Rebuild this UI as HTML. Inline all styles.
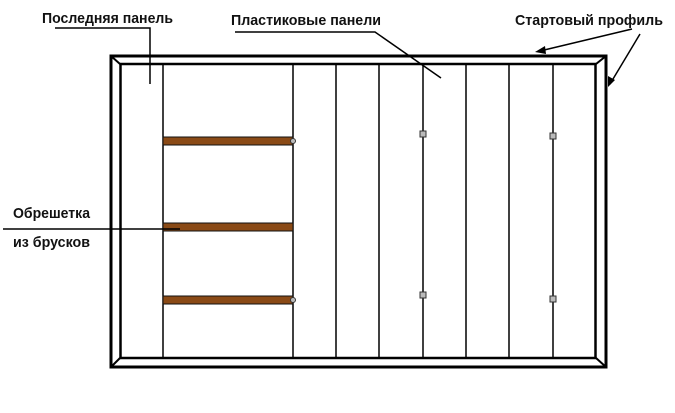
<!DOCTYPE html>
<html><head><meta charset="utf-8"><style>
html,body{margin:0;padding:0;background:#fff;}
svg{display:block;}
text{font-family:"Liberation Sans",sans-serif;font-weight:bold;font-size:15px;fill:#111;}
</style></head><body>
<svg width="675" height="413" viewBox="0 0 675 413" xmlns="http://www.w3.org/2000/svg">
<g stroke="#000" fill="none">
<rect x="111" y="56" width="495" height="311" stroke-width="3"/>
<rect x="120.5" y="64" width="475" height="294" stroke-width="2.5"/>
<line x1="111" y1="56" x2="120" y2="64" stroke-width="2"/>
<line x1="606" y1="56" x2="596" y2="64" stroke-width="2"/>
<line x1="111" y1="367" x2="120" y2="358" stroke-width="2"/>
<line x1="606" y1="367" x2="596" y2="358" stroke-width="2"/>
<g stroke-width="1.5">
<line x1="163" y1="64" x2="163" y2="358"/>
<line x1="293" y1="64" x2="293" y2="358"/>
<line x1="336" y1="64" x2="336" y2="358"/>
<line x1="379" y1="64" x2="379" y2="358"/>
<line x1="423" y1="64" x2="423" y2="358"/>
<line x1="466" y1="64" x2="466" y2="358"/>
<line x1="509" y1="64" x2="509" y2="358"/>
<line x1="553" y1="64" x2="553" y2="358"/>
</g>
</g>
<g fill="#8a4a16" stroke="#111" stroke-width="1">
<rect x="163" y="137" width="130" height="8"/>
<rect x="163" y="223" width="130" height="8"/>
<rect x="163" y="296" width="130" height="8"/>
</g>
<g fill="#bbb" stroke="#333" stroke-width="1">
<circle cx="293" cy="141" r="2.5"/>
<circle cx="293" cy="300" r="2.5"/>
<rect x="420" y="131" width="6" height="6"/>
<rect x="420" y="292" width="6" height="6"/>
<rect x="550" y="133" width="6" height="6"/>
<rect x="550" y="296" width="6" height="6"/>
</g>
<g stroke="#000" stroke-width="1.5" fill="none">
<polyline points="55,28 150,28 150,84"/>
<polyline points="235,32 375,32 441,78"/>
<line x1="3" y1="229" x2="180" y2="229"/>
<line x1="632" y1="29" x2="540" y2="51"/>
<line x1="640" y1="34" x2="610" y2="84"/>
</g>
<g fill="#000">
<polygon points="535,52 545,46 546,54"/>
<polygon points="608,87 608,76 615,80"/>
</g>
<text x="42" y="23" textLength="131" lengthAdjust="spacingAndGlyphs">Последняя панель</text>
<text x="231" y="25" textLength="150" lengthAdjust="spacingAndGlyphs">Пластиковые панели</text>
<text x="515" y="25" textLength="148" lengthAdjust="spacingAndGlyphs">Стартовый профиль</text>
<text x="13" y="218" textLength="77" lengthAdjust="spacingAndGlyphs">Обрешетка</text>
<text x="13" y="247" textLength="77" lengthAdjust="spacingAndGlyphs">из брусков</text>
</svg>
</body></html>
